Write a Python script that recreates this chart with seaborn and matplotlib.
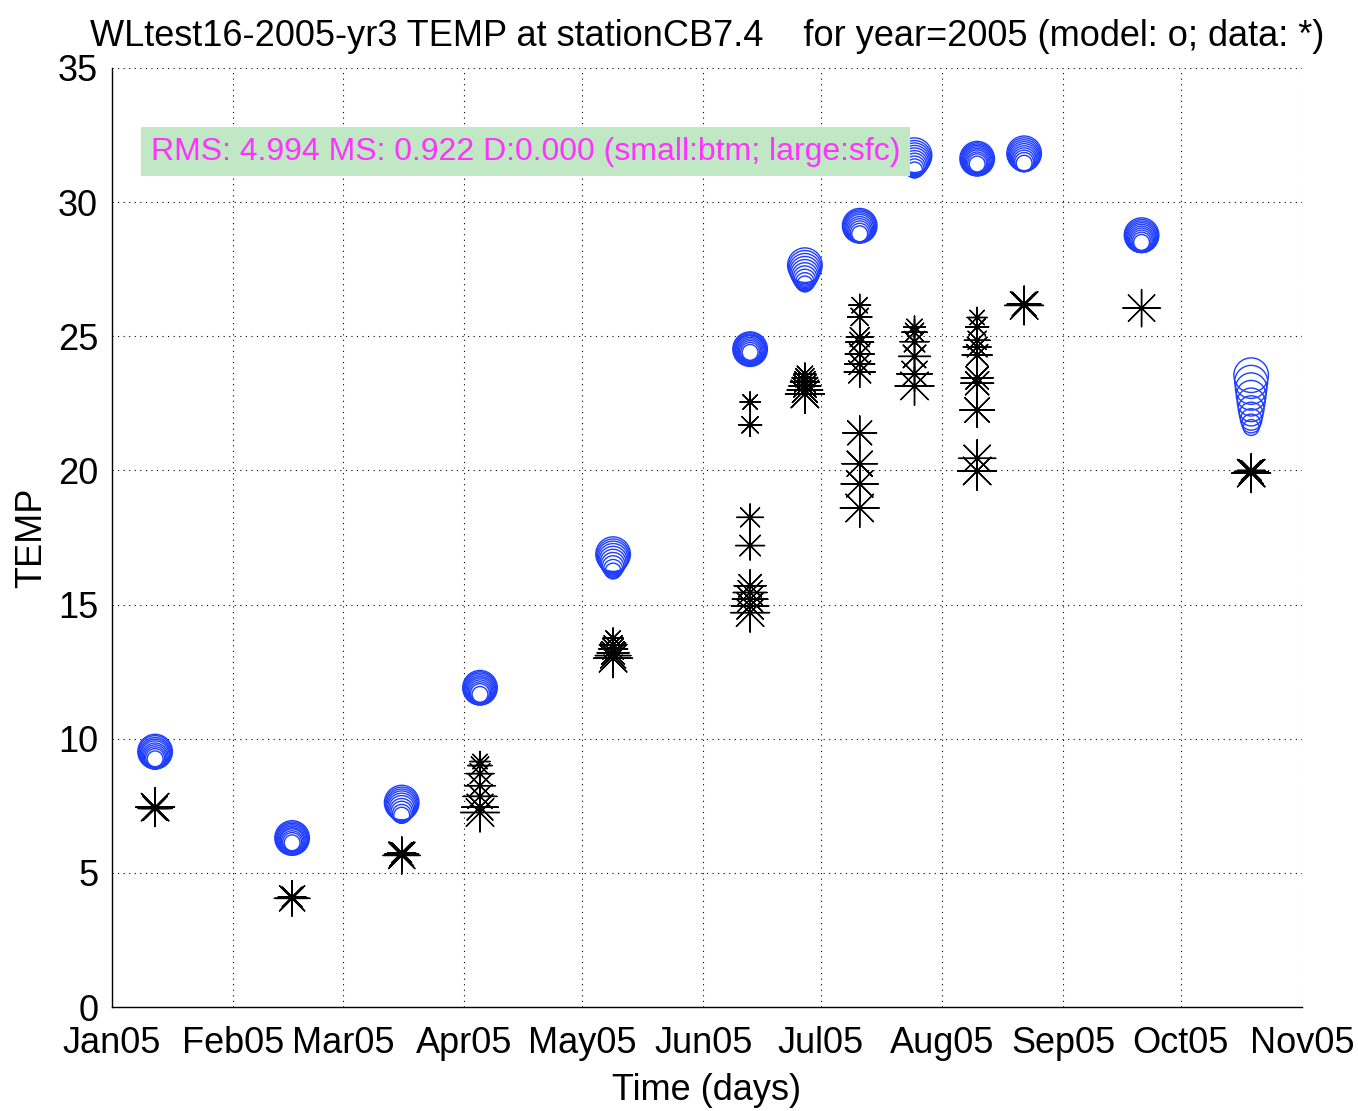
import numpy as np
import pandas as pd
import matplotlib
matplotlib.use("Agg")
import matplotlib.pyplot as plt
import matplotlib.dates as mdates
import seaborn as sns

sns.set_style("white")
plt.rcParams['font.family'] = ['Liberation Sans', 'DejaVu Sans']
plt.rcParams['text.color'] = 'black'
plt.rcParams['axes.labelcolor'] = 'black'

# ---- data ----
cast_dates = ["2005-01-12", "2005-02-16", "2005-03-16", "2005-04-05", "2005-05-09",
              "2005-06-13", "2005-06-27", "2005-07-11", "2005-07-25", "2005-08-10",
              "2005-08-22", "2005-09-21", "2005-10-19"]

# model temperatures, bottom -> surface
model_temp = [
    [9.25, 9.28, 9.3, 9.33, 9.36, 9.4, 9.43, 9.46, 9.5, 9.52],
    [6.12, 6.15, 6.17, 6.2, 6.2, 6.22, 6.24, 6.26, 6.28, 6.3],
    [7.15, 7.2, 7.27, 7.33, 7.4, 7.45, 7.5, 7.54, 7.58, 7.62],
    [11.65, 11.7, 11.72, 11.75, 11.78, 11.8, 11.83, 11.86, 11.88, 11.9],
    [16.25, 16.33, 16.42, 16.5, 16.58, 16.65, 16.72, 16.78, 16.83, 16.88],
    [24.4, 24.42, 24.44, 24.46, 24.48, 24.5, 24.5, 24.5, 24.52, 24.52],
    [26.95, 27.02, 27.1, 27.18, 27.26, 27.34, 27.42, 27.5, 27.58, 27.65],
    [28.82, 28.86, 28.9, 28.94, 28.98, 29.02, 29.05, 29.08, 29.1, 29.12],
    [31.2, 31.26, 31.32, 31.38, 31.44, 31.5, 31.56, 31.62, 31.68, 31.75],
    [31.42, 31.45, 31.47, 31.5, 31.52, 31.54, 31.56, 31.58, 31.6, 31.62],
    [31.45, 31.5, 31.54, 31.58, 31.62, 31.66, 31.7, 31.74, 31.78, 31.82],
    [28.5, 28.53, 28.56, 28.59, 28.62, 28.65, 28.68, 28.71, 28.74, 28.77],
    [21.6, 21.75, 21.9, 22.1, 22.3, 22.55, 22.8, 23.05, 23.3, 23.55],
]
model_level = [0.0, 0.11, 0.22, 0.33, 0.44, 0.56, 0.67, 0.78, 0.89, 1.0]  # 0 = bottom, 1 = surface

# observed temperatures and their depth level (1 = surface)
data_temp = [
    [7.45, 7.4, 7.4],
    [4.05, 4.05, 4.1],
    [5.65, 5.7, 5.75],
    [7.25, 7.45, 7.85, 8.25, 8.7, 9.0, 9.15],
    [13.0, 13.1, 13.2, 13.35, 13.5, 13.75],
    [14.7, 14.95, 15.2, 15.45, 15.7, 17.2, 18.25, 21.7, 22.55],
    [22.85, 23.0, 23.15, 23.3, 23.45, 23.6],
    [18.6, 19.5, 20.25, 21.4, 23.67, 23.97, 24.34, 24.78, 24.97, 25.72, 26.16],
    [23.15, 23.6, 24.25, 24.8, 25.15, 25.35],
    [19.98, 20.45, 22.25, 23.25, 23.45, 24.3, 24.6, 24.85, 25.35, 25.7],
    [26.15, 26.2, 26.2],
    [26.05],
    [19.9, 19.95, 20.0],
]
data_level = [
    [1.0, 0.7, 0.4],
    [0.8, 0.6, 0.4],
    [0.9, 0.7, 0.4],
    [1.0, 0.85, 0.7, 0.55, 0.4, 0.25, 0.1],
    [1.0, 0.8, 0.6, 0.45, 0.3, 0.1],
    [1.0, 0.9, 0.8, 0.7, 0.6, 0.45, 0.35, 0.2, 0.1],
    [1.0, 0.8, 0.6, 0.45, 0.3, 0.15],
    [1.0, 0.9, 0.8, 0.7, 0.55, 0.5, 0.45, 0.4, 0.35, 0.25, 0.15],
    [1.0, 0.8, 0.6, 0.45, 0.3, 0.15],
    [1.0, 0.9, 0.75, 0.65, 0.6, 0.5, 0.4, 0.3, 0.2, 0.1],
    [1.0, 0.7, 0.4],
    [0.9],
    [1.0, 0.7, 0.4],
]

title = "WLtest16-2005-yr3 TEMP at stationCB7.4    for year=2005 (model: o; data: *)"
stats_text = "RMS: 4.994 MS: 0.922 D:0.000 (small:btm; large:sfc)"
month_ticks = pd.date_range("2005-01-01", "2005-11-01", freq="MS")

# ---- tables ----
mrows = []
for d, temps in zip(cast_dates, model_temp):
    for t, lv in zip(temps, model_level):
        mrows.append((pd.Timestamp(d), t, lv))
model_df = pd.DataFrame(mrows, columns=["date", "temp", "level"])

drows = []
for d, temps, lvls in zip(cast_dates, data_temp, data_level):
    for t, lv in zip(temps, lvls):
        drows.append((pd.Timestamp(d), t, lv))
data_df = pd.DataFrame(drows, columns=["date", "temp", "level"])

# ---- figure ----
fig = plt.figure(figsize=(13.58, 11.11), dpi=100)
ax = fig.add_axes([0.0825, 0.0936, 0.8763, 0.8452])

blue = "#1f3dff"
sns.scatterplot(data=model_df, x="date", y="temp", size="level", sizes=(130, 620),
                size_norm=(0, 1), marker="o", color=blue, linewidth=1.0,
                legend=False, ax=ax, zorder=3)
coll = ax.collections[-1]
coll.set_facecolor("none")
coll.set_edgecolor(blue)

sns.scatterplot(data=data_df, x="date", y="temp", size="level", sizes=(150, 780),
                size_norm=(0, 1), marker=(8, 2, 0), color="black", linewidth=1.0,
                legend=False, ax=ax, zorder=4)

ax.set_xlim(pd.Timestamp("2005-01-01"), pd.Timestamp("2005-11-01"))
ax.set_ylim(0, 35)
ax.set_xticks(month_ticks)
ax.xaxis.set_major_formatter(mdates.DateFormatter("%b%y"))
ax.set_yticks(np.arange(0, 36, 5))

ax.grid(True, color="black", linestyle=(0, (1, 4)), linewidth=0.8)
for s in ["top", "right"]:
    ax.spines[s].set_visible(False)
for s in ["left", "bottom"]:
    ax.spines[s].set_color("black")
    ax.spines[s].set_linewidth(1.0)
ax.tick_params(direction="in", length=9, width=1.0, labelsize=26, colors="black")
ax.tick_params(axis="x", pad=14)
ax.tick_params(axis="y", pad=10)

ax.set_xlabel("Time (days)", fontsize=26, labelpad=8)
ax.set_ylabel("TEMP", fontsize=26, labelpad=6)
ax.set_title(title, fontsize=26, pad=16)

ax.text(0.0325, 0.911, stats_text, transform=ax.transAxes, fontsize=23,
        color="#ff33ff", va="center", ha="left", zorder=6,
        bbox=dict(boxstyle="square,pad=0.3", facecolor="#c0e8c4", edgecolor="none"))

fig.savefig("out.png", dpi=100)
